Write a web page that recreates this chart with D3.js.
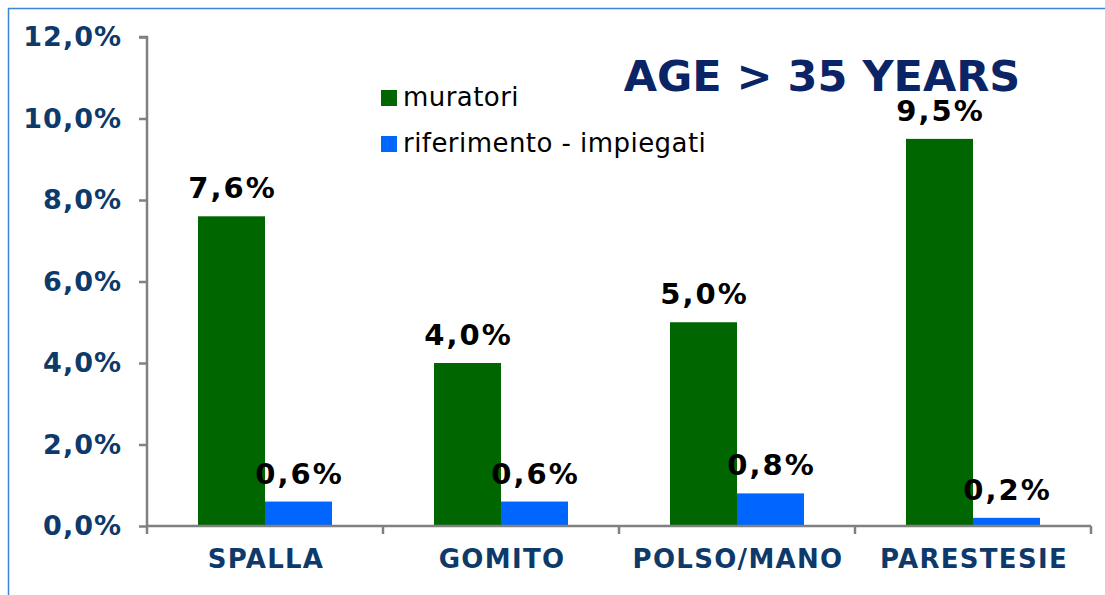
<!DOCTYPE html>
<head>
<meta charset="utf-8">
<script src="https://d3js.org/d3.v7.min.js"></script>
<style>
  html, body { margin: 0; padding: 0; background: #fff; }
  * { font-family: "DejaVu Sans", Verdana, sans-serif; }
</style>
</head>
<body>
<svg width="1105" height="595"></svg>
<script>
// data
var categories = ["SPALLA", "GOMITO", "POLSO/MANO", "PARESTESIE"];
var seriesNames = ["muratori", "riferimento - impiegati"];
var muratori = [7.6, 4.0, 5.0, 9.5];
var impiegati = [0.6, 0.6, 0.8, 0.2];
var yTicks = [0, 2, 4, 6, 8, 10, 12];
var title = "AGE > 35 YEARS";

var colors = ["#006600", "#0066ff"];
var fmt = function(v) { return v.toFixed(1).replace(".", ",") + "%"; };

var svg = d3.select("svg");

// outer frame
svg.append("rect")
    .attr("x", 8.5).attr("y", 8.5)
    .attr("width", 1110).attr("height", 600)
    .attr("fill", "none")
    .attr("stroke", "#3a86d6")
    .attr("stroke-width", 1.5);

var plotLeft = 147, plotRight = 1091, plotTop = 37, plotBottom = 526;

var x = d3.scaleBand().domain(categories).range([plotLeft, plotRight]);
var x1 = d3.scaleBand().domain([0, 1]).range([51, x.bandwidth() - 51]);
var y = d3.scaleLinear().domain([0, 12]).range([plotBottom, plotTop]);

// y axis
var yAxis = svg.append("g")
    .attr("transform", "translate(" + plotLeft + ",0)")
    .call(d3.axisLeft(y).tickValues(yTicks).tickSize(8).tickPadding(17).tickFormat(fmt));
yAxis.select(".domain").attr("stroke", "#808080").attr("stroke-width", 2.5)
    .attr("d", "M0," + plotBottom + "V" + plotTop + "H-8");
yAxis.selectAll(".tick line").attr("stroke", "#808080").attr("stroke-width", 2.5);
yAxis.selectAll(".tick text")
    .attr("fill", "#0d3a6a")
    .attr("font-size", 27)
    .attr("font-weight", "bold")
    .attr("letter-spacing", 1)
    .attr("font-family", "DejaVu Sans");

// bars
var groups = svg.append("g").selectAll("g")
    .data(categories)
    .join("g")
    .attr("transform", function(d) { return "translate(" + x(d) + ",0)"; });

var series = [muratori, impiegati];
series.forEach(function(vals, si) {
  groups.append("rect")
      .attr("x", x1(si))
      .attr("width", x1.bandwidth())
      .attr("y", function(d, i) { return y(vals[i]); })
      .attr("height", function(d, i) { return plotBottom - y(vals[i]); })
      .attr("fill", colors[si]);
  groups.append("text")
      .attr("x", x1(si) + x1.bandwidth() / 2 + 1)
      .attr("y", function(d, i) { return y(vals[i]) - 18; })
      .attr("text-anchor", "middle")
      .attr("font-size", 29)
      .attr("font-weight", "bold")
      .attr("letter-spacing", 2)
      .attr("fill", "#000")
      .text(function(d, i) { return fmt(vals[i]); });
});

// x axis
var xAxis = svg.append("g")
    .attr("transform", "translate(0," + plotBottom + ")")
    .call(d3.axisBottom(x).tickSize(0).tickPadding(24));
xAxis.select(".domain").attr("stroke", "#808080").attr("stroke-width", 2.5)
    .attr("d", "M" + plotLeft + ",0H" + plotRight);
xAxis.selectAll(".tick text")
    .attr("fill", "#0d3a6a")
    .attr("font-size", 26)
    .attr("font-weight", "bold")
    .attr("letter-spacing", 1.3)
    .attr("dx", 1)
    .attr("font-family", "DejaVu Sans");
// category separator ticks
svg.append("g").selectAll("line")
    .data(categories.concat(["end"]))
    .join("line")
    .attr("x1", function(d) { return d === "end" ? plotRight : x(d); })
    .attr("x2", function(d) { return d === "end" ? plotRight : x(d); })
    .attr("y1", plotBottom).attr("y2", plotBottom + 8)
    .attr("stroke", "#808080").attr("stroke-width", 2.5);

// legend
var legend = svg.append("g").selectAll("g")
    .data(seriesNames)
    .join("g")
    .attr("transform", function(d, i) { return "translate(381," + (106 + i * 46) + ")"; });
legend.append("rect")
    .attr("x", 0).attr("y", -16).attr("width", 16).attr("height", 16)
    .attr("fill", function(d, i) { return colors[i]; });
legend.append("text")
    .attr("x", 22).attr("y", 0)
    .attr("font-size", 26)
    .attr("letter-spacing", 0.45)
    .attr("fill", "#000")
    .text(function(d) { return d; });

// title
svg.append("text")
    .attr("x", 822).attr("y", 91)
    .attr("text-anchor", "middle")
    .attr("font-size", 43)
    .attr("font-weight", "bold")
    .attr("fill", "#0a2466")
    .text(title);
</script>
</body>
